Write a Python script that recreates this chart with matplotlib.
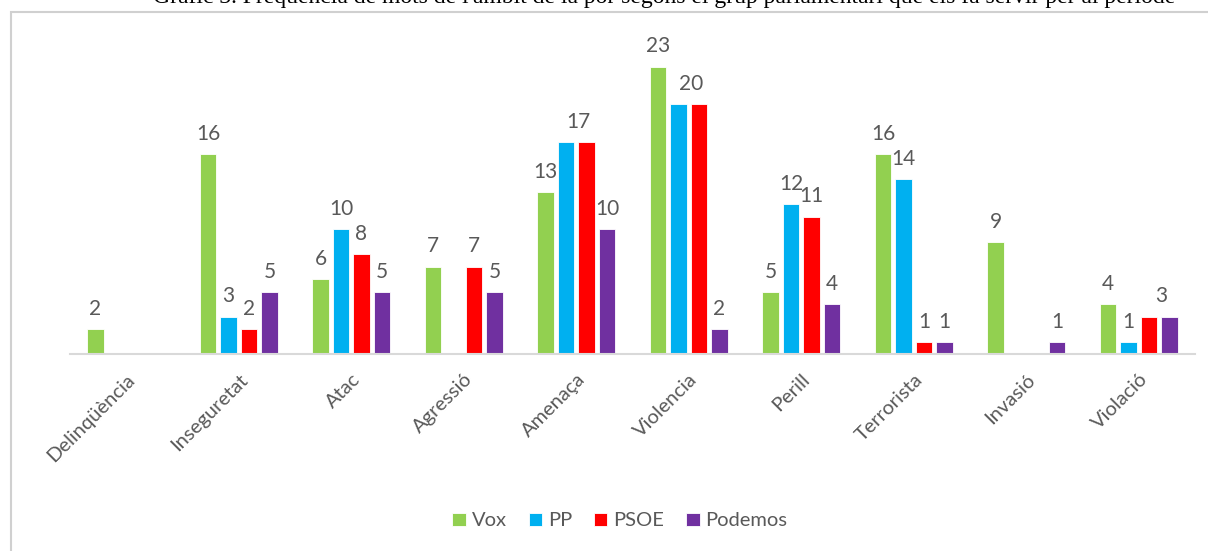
import numpy as np
import matplotlib.pyplot as plt
from matplotlib.patches import Rectangle

categorias = ["Delinqüència", "Inseguretat", "Atac", "Agressió", "Amenaça",
              "Violencia", "Perill", "Terrorista", "Invasió", "Violació"]
partits = ["Vox", "PP", "PSOE", "Podemos"]
vox = [2, 16, 6, 7, 13, 23, 5, 16, 9, 4]
pp = [0, 3, 10, 0, 17, 20, 12, 14, 0, 1]
psoe = [0, 2, 8, 7, 17, 20, 11, 1, 0, 3]
podemos = [0, 5, 5, 5, 10, 2, 4, 1, 1, 3]
colors = ["#92D050", "#00B0F0", "#FF0000", "#7030A0"]
# etiquetes que es fusionen amb la barra veïna (categoria, partit)
fusionades = [(4, 1), (5, 1), (9, 2)]

titol = "Gràfic 3. Freqüència de mots de l'àmbit de la por segons el grup parlamentari que els fa servir per al període"

plt.rcParams['font.family'] = ['Lato', 'DejaVu Sans']

fig = plt.figure(figsize=(12.08, 5.51), dpi=100)
# marc del gràfic (surt per baix i per la dreta)
fig.patches.append(Rectangle((11 / 1208, -0.1), 1.2, 1.1 - 12 / 551, transform=fig.transFigure,
                             fill=False, edgecolor="#d0d0d0", linewidth=1.5, zorder=0))
fig.text(0.55, 1 - 3 / 551, titol, ha="center", va="baseline", fontsize=17,
         family="Liberation Serif", color="black")

ax = fig.add_axes([70 / 1208, 197 / 551, 1125 / 1208, 312.5 / 551])
x = np.arange(len(categorias))
step = 0.182
w = 0.148
series = [vox, pp, psoe, podemos]
for i, (vals, nom, c) in enumerate(zip(series, partits, colors)):
    pos = x + (i - 1.5) * step
    ax.bar(pos, vals, width=w, color=c, edgecolor="white", linewidth=0.6, label=nom, zorder=2)

# etiquetes de dades
for j in range(len(categorias)):
    k = 0
    while k < 4:
        v = series[k][j]
        if v == 0:
            k += 1
            continue
        if (j, k) in fusionades:
            px = x[j] + (k - 1.0) * step + 0.02
            k += 2
        else:
            px = x[j] + (k - 1.5) * step
            k += 1
        ax.text(px, v + 0.8, str(v), ha="center", va="bottom", fontsize=15, color="#595959")

ax.set_xlim(-0.5, len(categorias) - 0.5)
ax.set_ylim(0, 25)
ax.set_yticks([])
ax.set_xticks(x)
ax.set_xticklabels(categorias, rotation=45, ha="right", rotation_mode="anchor",
                   fontsize=14.5, color="#595959")
ax.tick_params(axis="x", length=0, pad=12)
for s in ["top", "right", "left"]:
    ax.spines[s].set_visible(False)
ax.spines["bottom"].set_color("#d9d9d9")
ax.spines["bottom"].set_linewidth(1.5)

fig.legend(loc="center", bbox_to_anchor=(620 / 1208, 30 / 551), ncol=4, frameon=False,
           fontsize=14.5, handlelength=0.65, handleheight=0.65, handletextpad=0.3,
           columnspacing=1.1, labelcolor="#595959")

plt.savefig("out.png", dpi=100)
plt.close()
